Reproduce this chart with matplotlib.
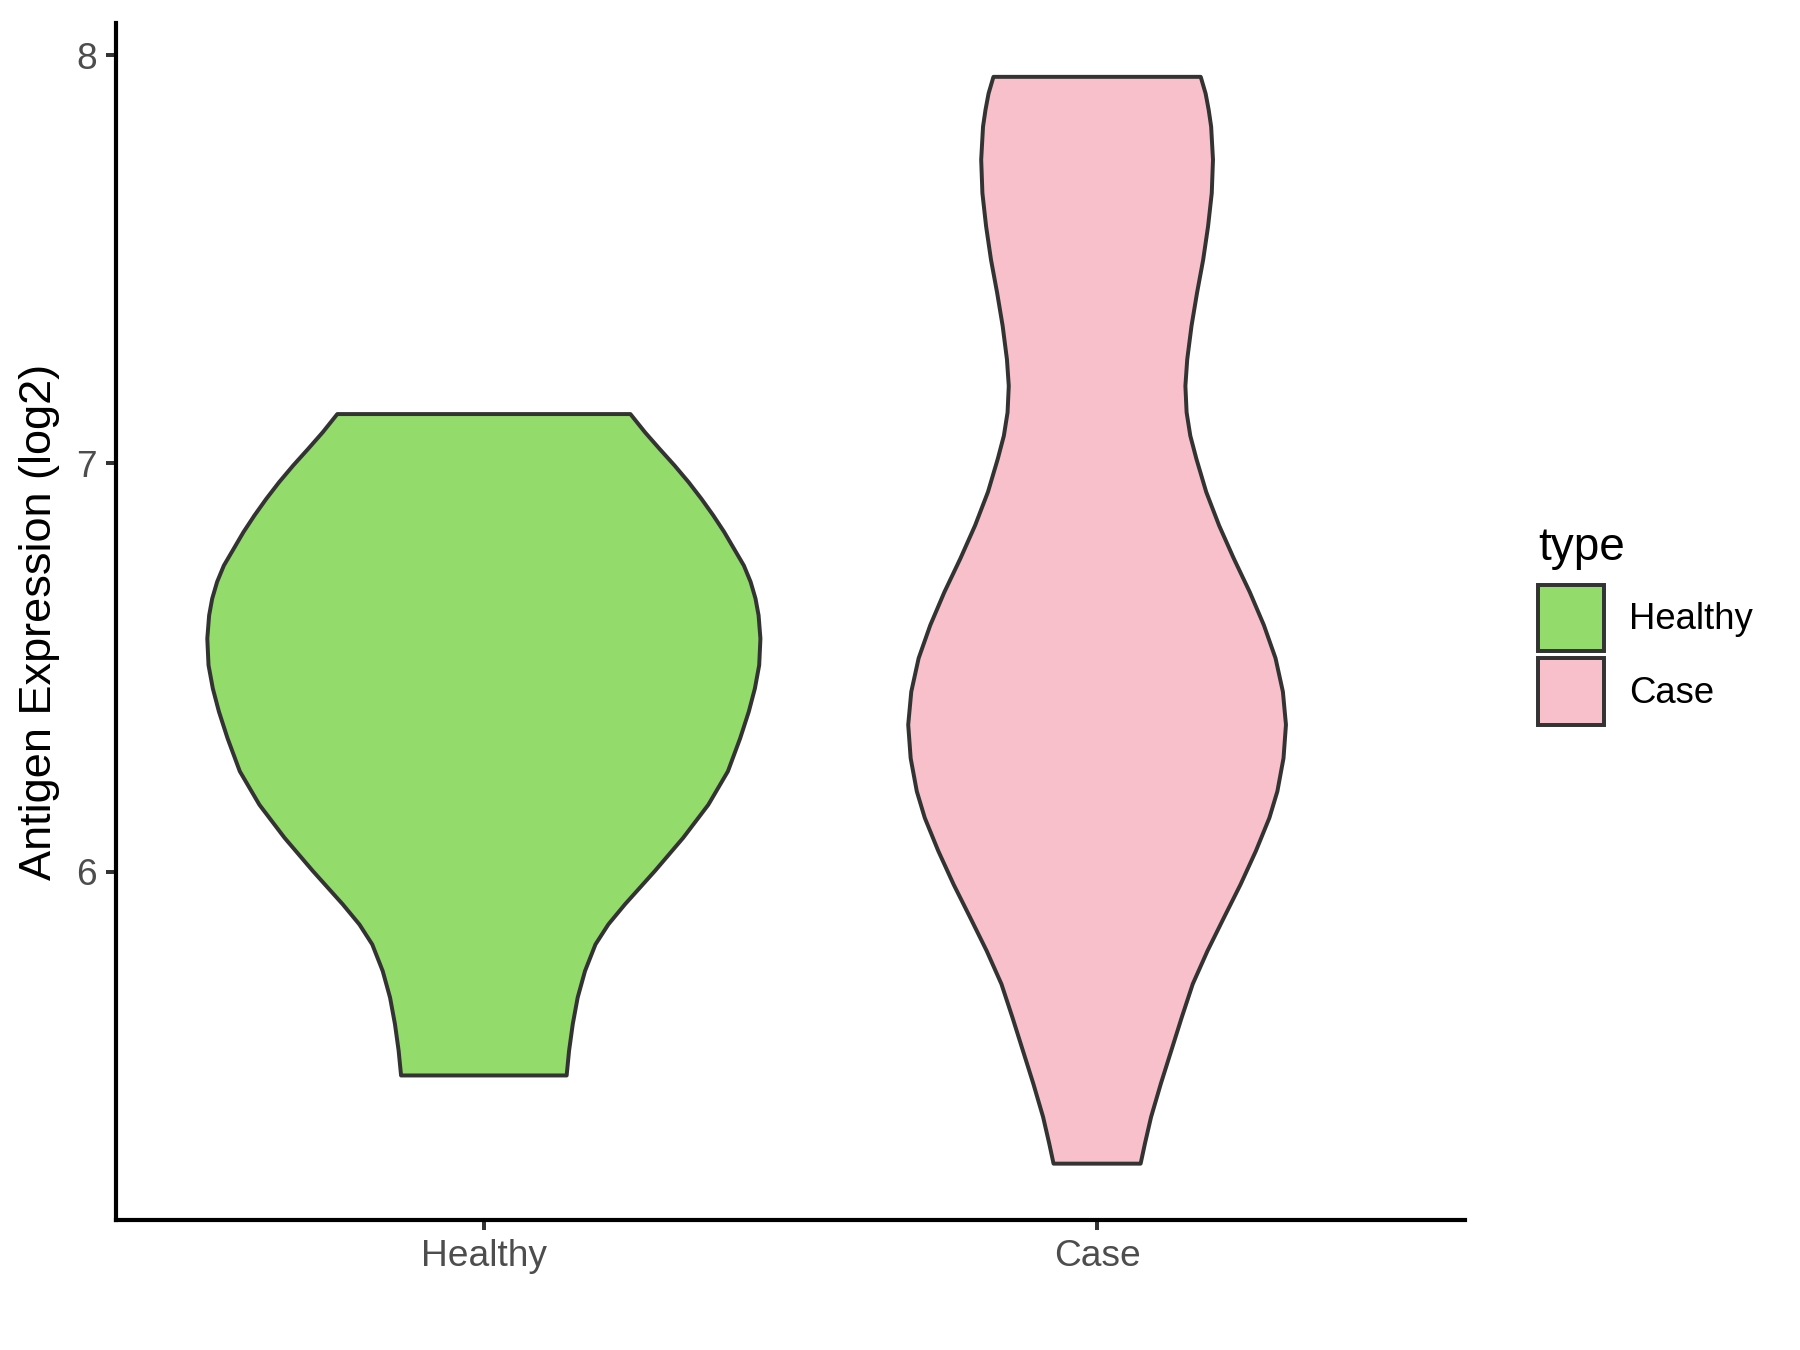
import matplotlib
matplotlib.use("Agg")
import matplotlib.pyplot as plt
from matplotlib.patches import Patch

plt.rcParams['font.family'] = ['Liberation Sans', 'DejaVu Sans']

# groups and colours
groups = ['Healthy', 'Case']
fills = ['#93DB6B', '#F7C0CB']

# violin outlines: expression level and half-width (x units)
healthy_y = [5.501, 5.562, 5.627, 5.692, 5.757, 5.822, 5.871, 5.920, 6.002, 6.083,
             6.164, 6.246, 6.327, 6.392, 6.449, 6.506, 6.571, 6.628, 6.669, 6.710,
             6.750, 6.791, 6.832, 6.873, 6.913, 6.954, 6.995, 7.035, 7.076, 7.121]
healthy_w = [0.135, 0.139, 0.145, 0.153, 0.165, 0.182, 0.203, 0.230, 0.279, 0.325,
             0.366, 0.398, 0.418, 0.432, 0.442, 0.449, 0.451, 0.448, 0.443, 0.435,
             0.424, 0.408, 0.392, 0.374, 0.355, 0.334, 0.311, 0.287, 0.263, 0.239]

case_y = [5.285, 5.334, 5.399, 5.481, 5.562, 5.643, 5.725, 5.806, 5.888, 5.969,
          6.051, 6.132, 6.197, 6.278, 6.360, 6.441, 6.523, 6.604, 6.685, 6.767,
          6.848, 6.930, 7.011, 7.068, 7.125, 7.190, 7.255, 7.337, 7.418, 7.499,
          7.581, 7.662, 7.744, 7.825, 7.866, 7.906, 7.947]
case_w = [0.071, 0.078, 0.088, 0.104, 0.121, 0.138, 0.156, 0.180, 0.207, 0.234,
          0.259, 0.281, 0.294, 0.304, 0.308, 0.303, 0.291, 0.272, 0.249, 0.223,
          0.199, 0.178, 0.162, 0.152, 0.146, 0.144, 0.147, 0.154, 0.163, 0.173,
          0.181, 0.187, 0.189, 0.186, 0.182, 0.177, 0.169]

profiles = [(healthy_y, healthy_w), (case_y, case_w)]

fig = plt.figure(figsize=(12, 9), dpi=150)
ax = fig.add_axes([0.0644, 0.0963, 0.7495, 0.8867])

for i, (ys, ws) in enumerate(profiles):
    pos = i + 1
    # right side bottom->top, then left side top->bottom
    xs = [pos + w for w in ws] + [pos - w for w in ws[::-1]]
    yy = list(ys) + list(ys[::-1])
    ax.fill(xs, yy, facecolor=fills[i], edgecolor='#333333', linewidth=1.9,
            joinstyle='round')

ax.set_xlim(0.4, 2.6)
ax.set_ylim(5.147, 8.079)
ax.set_xticks([1, 2])
ax.set_xticklabels(groups)
ax.set_yticks([6, 7, 8])
ax.set_ylabel('Antigen Expression (log2)', fontsize=21.7, labelpad=8)

for s in ['top', 'right']:
    ax.spines[s].set_visible(False)
for s in ['left', 'bottom']:
    ax.spines[s].set_linewidth(2.0)
    ax.spines[s].set_color('black')
ax.tick_params(axis='both', length=5, width=1.9, color='#333333',
               labelsize=17.8, labelcolor='#4D4D4D', pad=4)

handles = [Patch(facecolor=fills[i], edgecolor='#333333', linewidth=1.9, label=g)
           for i, g in enumerate(groups)]
leg = fig.legend(handles=handles, title='type', loc='upper left',
                 bbox_to_anchor=(0.8546, 0.6104), frameon=False,
                 fontsize=17.5, title_fontsize=22, handlelength=1.79,
                 handleheight=2.437, labelspacing=0.19, handletextpad=0.71,
                 borderaxespad=0, borderpad=0)
leg._legend_box.align = 'left'
leg._legend_box.sep = 7

fig.savefig('out.png', dpi=150, facecolor='white')
